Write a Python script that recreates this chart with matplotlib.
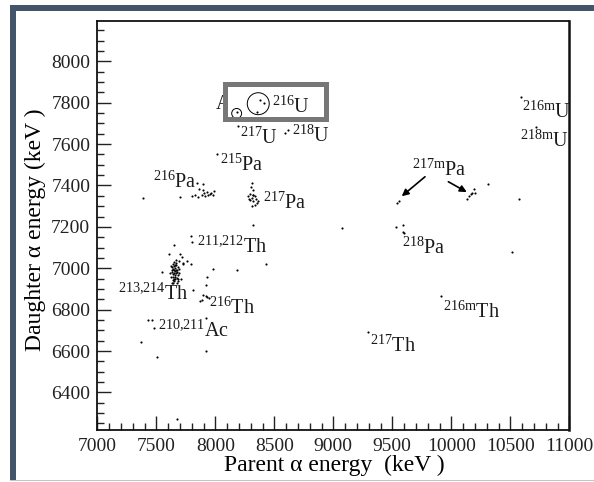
"""Parent vs daughter alpha-energy correlation plot (ROOT-style) with isotope labels."""
import matplotlib
matplotlib.use("Agg")
import matplotlib.pyplot as plt
from matplotlib.patches import Rectangle, Ellipse
from matplotlib.ticker import MultipleLocator

plt.rcParams["font.family"] = ["Liberation Serif", "DejaVu Serif"]
plt.rcParams["mathtext.fontset"] = "custom"
plt.rcParams["mathtext.rm"] = "Liberation Serif"
plt.rcParams["mathtext.it"] = "Liberation Serif:italic"

# correlated events (parent keV, daughter keV)
parent = [
    7390, 7701, 7800, 7828, 7848, 7893, 7864, 7898, 7927, 7955, 7983, 7856, 7885,
    7913, 7941, 7964, 7993, 7904,
    8017, 8190, 8591, 8614,
    8309, 8303, 8317, 8294, 8322, 8337, 8280, 8309, 8345, 8294, 8322, 8356, 8337,
    8309, 8364, 8288, 8317, 8317,
    7792, 7800, 7650, 7610, 7701, 7715, 7758, 7792, 7724, 7695, 7729, 7546, 7983,
    8181, 8430, 7932, 7921, 7809, 7686, 7673, 7707, 7631, 7644,
    7655, 7640, 7668, 7650, 7662, 7645, 7675, 7635, 7660, 7648, 7670, 7630, 7680,
    7652, 7665, 7642, 7690, 7625, 7658, 7672, 7638, 7684, 7646, 7663, 7654, 7677,
    7633, 7650, 7668, 7620, 7696, 7641, 7657, 7686, 7628, 7661,
    7898, 7921, 7885, 7870, 7932, 7947,
    7921, 7432, 7461, 7481, 7368, 7921, 7509, 7673,
    9076, 9537, 9559, 10136, 10153, 10173, 10195, 10201, 10165, 10309, 10576,
    9531, 9593, 9588, 9599, 10515, 10591, 10718, 9910, 9292,
]
daughter = [
    7340, 7345, 7348, 7352, 7413, 7405, 7384, 7377, 7367, 7361, 7356, 7343, 7356,
    7348, 7352, 7364, 7373, 7364,
    7553, 7687, 7655, 7668,
    7413, 7394, 7377, 7361, 7356, 7348, 7348, 7340, 7336, 7329, 7324, 7316, 7308,
    7300, 7324, 7336, 7352, 7211,
    7158, 7126, 7114, 7069, 7069, 7055, 7034, 7021, 7026, 7034, 7022, 6980, 6998,
    6990, 7021, 6958, 6919, 6897, 6937, 6929, 6948, 6929, 6929,
    6985, 6995, 6975, 7010, 6960, 6970, 6990, 6980, 7000, 6950, 7015, 7005, 6965,
    6940, 7025, 7020, 6998, 6960, 6968, 6952, 6945, 7008, 6990, 6992, 6978, 6980,
    6990, 7030, 7040, 6975, 6975, 6960, 7018, 6950, 7012, 6946,
    6872, 6868, 6848, 6840, 6861, 6855,
    6760, 6751, 6748, 6711, 6642, 6601, 6571, 6271,
    7195, 7313, 7327, 7336, 7348, 7365, 7381, 7365, 7361, 7405, 7336,
    7198, 7211, 7176, 7168, 7080, 7829, 7684, 6864, 6692,
]

# events inside the highlighted box (216U)
box_parent = [8181, 8379, 8413, 8356]
box_daughter = [7755, 7811, 7800, 7757]

# isotope labels: (text, left x, baseline y)
labels = [
    (r"$^{216}$Pa", 7475, 7389),
    (r"$^{215}$Pa", 8040, 7469),
    (r"$^{217}$U", 8209, 7603),
    (r"$^{218}$U", 8648, 7610),
    (r"$^{217}$Pa", 8404, 7287),
    (r"$^{211{,}212}$Th", 7842, 7074),
    (r"$^{213{,}214}$Th", 7178, 6848),
    (r"$^{216}$Th", 7949, 6780),
    (r"$^{210{,}211}$Ac", 7517, 6671),
    (r"$^{217\mathrm{m}}$Pa", 9665, 7445),
    (r"$^{218}$Pa", 9580, 7071),
    (r"$^{216\mathrm{m}}$U", 10595, 7728),
    (r"$^{218\mathrm{m}}$U", 10581, 7587),
    (r"$^{216\mathrm{m}}$Th", 9932, 6760),
    (r"$^{217}$Th", 9311, 6598),
]

# arrows for 217mPa: (tail, head)
arrows = [((9777, 7442), (9580, 7348)), ((9975, 7418), (10131, 7368))]

FIG_W, FIG_H = 594, 482
fig = plt.figure(figsize=(FIG_W / 100, FIG_H / 100), dpi=100)

# slide frame
fig.patches.append(Rectangle((10 / FIG_W, (FIG_H - 10.7) / FIG_H), 1, 5.7 / FIG_H,
                             transform=fig.transFigure, color="#44546a", lw=0))
fig.patches.append(Rectangle((10 / FIG_W, 2 / FIG_H), 6 / FIG_W, (FIG_H - 7) / FIG_H,
                             transform=fig.transFigure, color="#44546a", lw=0))
fig.patches.append(Rectangle((10 / FIG_W, 1 / FIG_H), 1, 1.5 / FIG_H,
                             transform=fig.transFigure, color="#c4c4c4", lw=0))

ax = fig.add_axes([97.3 / FIG_W, (FIG_H - 429.7) / FIG_H, 472 / FIG_W, 409 / FIG_H])
ax.set_xlim(7000, 11000)
ax.set_ylim(6220, 8196)

ax.scatter(parent, daughter, s=2.4, color="black", lw=0, zorder=2)

for txt, x, y in labels:
    ax.text(x, y, txt, fontsize=14.5, ha="left", va="baseline", color="#1a1a1a", zorder=2)

for (x0, y0), (x1, y1) in arrows:
    ax.annotate("", xy=(x1, y1), xytext=(x0, y0),
                arrowprops=dict(arrowstyle="-|>", color="black", lw=1.2,
                                mutation_scale=10, shrinkA=0, shrinkB=0))

# label partly hidden behind the inset box
ax.text(8006, 7768, "A", fontsize=14.5, ha="left", va="baseline", color="#1a1a1a", zorder=2)

# highlighted box: white fill, contents, then thick grey border on top
bx0, bx1, by0, by1 = 8086, 8934, 7722, 7889
ax.add_patch(Rectangle((bx0, by0), bx1 - bx0, by1 - by0, facecolor="white",
                       edgecolor="none", zorder=3))
ax.add_patch(Ellipse((8181, 7748), 84, 48, fill=False, ec="black", lw=0.7, zorder=4))
ax.add_patch(Ellipse((8364, 7795), 186, 106, fill=False, ec="black", lw=0.7, zorder=4))
ax.scatter(box_parent, box_daughter, s=2.4, color="black", lw=0, zorder=4)
ax.text(8478, 7752, r"$^{216}$U", fontsize=14.5, ha="left", va="baseline",
        color="#1a1a1a", zorder=4)
ax.add_patch(Rectangle((bx0, by0), bx1 - bx0, by1 - by0, facecolor="none",
                       edgecolor="#777777", lw=3.6, zorder=5, joinstyle="miter"))

ax.xaxis.set_major_locator(MultipleLocator(500))
ax.xaxis.set_minor_locator(MultipleLocator(100))
ax.yaxis.set_major_locator(MultipleLocator(200))
ax.yaxis.set_minor_locator(MultipleLocator(50))
ax.tick_params(which="both", direction="in", top=False, right=False,
               labelsize=14, width=1.0, colors="#222222")
ax.tick_params(which="major", length=10, pad=5)
ax.tick_params(which="minor", length=5)
ax.tick_params(axis="x", which="major", pad=6)
for side in ax.spines.values():
    side.set_linewidth(1.3)
    side.set_color("#111111")
ax.spines["right"].set_linewidth(1.8)

ax.set_xlabel("Parent α energy  (keV )", fontsize=17, va="baseline")
ax.xaxis.set_label_coords(0.503, -0.101)
ax.set_ylabel("Daughter α energy (keV )", fontsize=17, va="center")
ax.yaxis.set_label_coords(-0.132, 0.49)

fig.savefig("out.png", dpi=100)
